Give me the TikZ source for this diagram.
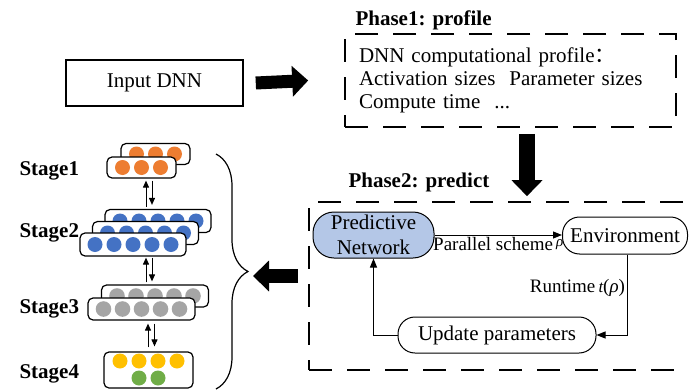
\documentclass[tikz,border=0pt]{standalone}
\usepackage{fontspec}
\setmainfont{Liberation Serif}
\newfontfamily\cjkfont{Noto Sans CJK SC}
\usetikzlibrary{arrows.meta, decorations.pathreplacing, calc}
\definecolor{pnblue}{RGB}{180,199,231}
\definecolor{lorange}{RGB}{237,125,49}
\definecolor{lblue}{RGB}{68,114,196}
\definecolor{lgray}{RGB}{165,165,165}
\definecolor{lyellow}{RGB}{255,192,0}
\definecolor{lgreen}{RGB}{112,173,71}

\begin{document}
\begin{tikzpicture}[x=1pt, y=-1pt,
  txt/.style={font=\fontsize{21}{23}\selectfont},
  bold/.style={font=\fontsize{21}{23}\selectfont\bfseries},
  small/.style={font=\fontsize{19}{21}\selectfont},
  phase/.style={draw, line width=1.6pt, dash pattern=on 23pt off 15pt},
  pill/.style={draw, line width=1pt, inner sep=0pt, txt},
  layer/.style={draw, line width=1.2pt, rounded corners=5pt, fill=white, inner sep=0pt},
  flow/.style={line width=1pt, -{Triangle[length=9pt,width=7pt]}},
  link/.style={line width=1pt, -{Triangle[length=7pt,width=6pt]}},
  big/.style={line width=14pt, -{Triangle[length=16pt,width=30pt]}},
]
\useasboundingbox (0,0) rectangle (689,391);

% input and profiling phase
\node[draw, line width=1.5pt, minimum width=177pt, minimum height=46pt, txt] (input) at (154.5,83) {Input DNN};
\node[phase, minimum width=331pt, minimum height=93pt, text width=303pt, inner xsep=14pt, align=left, txt] (p1) at (510.5,80.5)
  {DNN computational profile{\cjkfont ：}\\
   Activation sizes\hspace{14pt}Parameter sizes\\
   Compute time\ \ ...};
\node[bold, anchor=base west] (p1lbl) at (352,25) {Phase1: profile};

% prediction phase
\node[phase, minimum width=388pt, minimum height=168pt] (p2) at (503,286) {};
\node[bold, anchor=base west] (p2lbl) at (345,187) {Phase2: predict};
\node[pill, rounded corners=21pt, fill=pnblue, minimum width=121pt, minimum height=46pt, align=center,
      font=\fontsize{21}{25}\selectfont] (pn) at (373.5,235) {Predictive\\Network};
\node[pill, rounded corners=17pt, minimum width=125pt, minimum height=37pt] (env) at (625,235.5) {Environment};
\node[pill, rounded corners=17pt, minimum width=198pt, minimum height=36pt] (upd) at (497,335) {Update parameters};

\draw[flow] (pn.east) -- node[small, below, inner sep=2pt] (ps)
  {Parallel scheme\,\raisebox{4pt}{\fontsize{15}{15}\selectfont\itshape ρ}} (pn.east -| env.west);
\draw[flow] ([xshift=2.5pt]env.south) |- node[small, pos=0.21, left, inner sep=2pt] (rt)
  {Runtime\,{\fontsize{17}{17}\selectfont\itshape t}(\textit{ρ})} (upd.east);
\draw[flow] (upd.west) -| (pn.south);

% block arrows between phases
\coordinate (dtop) at ([xshift=16.5pt,yshift=-6pt]p1.south);
\coordinate (tip) at (253,276);
\draw[big, line width=13pt] ([xshift=12pt]input.east) -- ([xshift=-36pt]p1.west);
\draw[big, line width=16pt, shorten >=5pt] (dtop) -- (dtop |- p2.north);
\draw[big] ([xshift=-10pt,yshift=10pt]p2.west) -- (tip);

\draw[line width=1.2pt, decorate, decoration={brace, amplitude=32pt}] (216,154) -- (216,389);

% pipeline stages
\node[bold, anchor=base west] (st1) at (16,175) {Stage1};
\node[bold, anchor=base west] (st2) at (16,237) {Stage2};
\node[bold, anchor=base west] (st3) at (16,313) {Stage3};
\node[bold, anchor=base west] (st4) at (16,378) {Stage4};

\node[layer, minimum width=69pt, minimum height=21pt] (s1b) at (155.5,154) {};
\foreach \i in {-1,0,1} \fill[lorange] ([xshift=\i*19pt]s1b.center) circle (7.5pt);
\node[layer, minimum width=69pt, minimum height=21pt] (s1) at (141.5,167.5) {};
\foreach \i in {-1,0,1} \fill[lorange] ([xshift=\i*19pt]s1.center) circle (7.5pt);

\node[layer, minimum width=106pt, minimum height=23pt] (s2b) at (158,221) {};
\foreach \i in {-2,...,2} \fill[lblue] ([xshift=\i*19pt]s2b.center) circle (7.5pt);
\node[layer, minimum width=106pt, minimum height=23pt] (s2m) at (145.5,233) {};
\foreach \i in {-2,...,2} \fill[lblue] ([xshift=\i*19pt]s2m.center) circle (7.5pt);
\node[layer, minimum width=106pt, minimum height=23pt] (s2) at (133,244.5) {};
\foreach \i in {-2,...,2} \fill[lblue] ([xshift=\i*19pt]s2.center) circle (7.5pt);

\node[layer, minimum width=107pt, minimum height=22pt] (s3b) at (155,296) {};
\foreach \i in {-2,...,2} \fill[lgray] ([xshift=\i*19pt]s3b.center) circle (7.8pt);
\node[layer, minimum width=107pt, minimum height=22pt] (s3) at (141.5,309) {};
\foreach \i in {-2,...,2} \fill[lgray] ([xshift=\i*19pt]s3.center) circle (7.8pt);

\node[layer, minimum width=89pt, minimum height=36pt] (s4) at (148.5,370) {};
\foreach \i in {-1.5,-0.5,0.5,1.5} \fill[lyellow] ([xshift=\i*19pt,yshift=9pt]s4.center) circle (7.5pt);
\foreach \i in {-0.5,0.5} \fill[lgreen] ([xshift=\i*19pt,yshift=-8pt]s4.center) circle (7.5pt);

% activations up, gradients down
\draw[link] ($(s1.south |- s2b.north)+(4.5,-2)$) -- ($(s1.south)+(4.5,2)$);
\draw[link] ($(s1.south)+(10.5,2)$) -- ($(s1.south |- s2b.north)+(10.5,-4)$);
\draw[link] ($(s2.south |- s3b.north)+(13,-2)$) -- ($(s2.south)+(13,1)$);
\draw[link] ($(s2.south)+(19,1)$) -- ($(s2.south |- s3b.north)+(19,-3)$);
\draw[link] ($(s3.south |- s4.north)+(6.5,-4)$) -- ($(s3.south)+(6.5,3)$);
\draw[link] ($(s3.south)+(13,3)$) -- ($(s3.south |- s4.north)+(13,-5)$);
\end{tikzpicture}
\end{document}
